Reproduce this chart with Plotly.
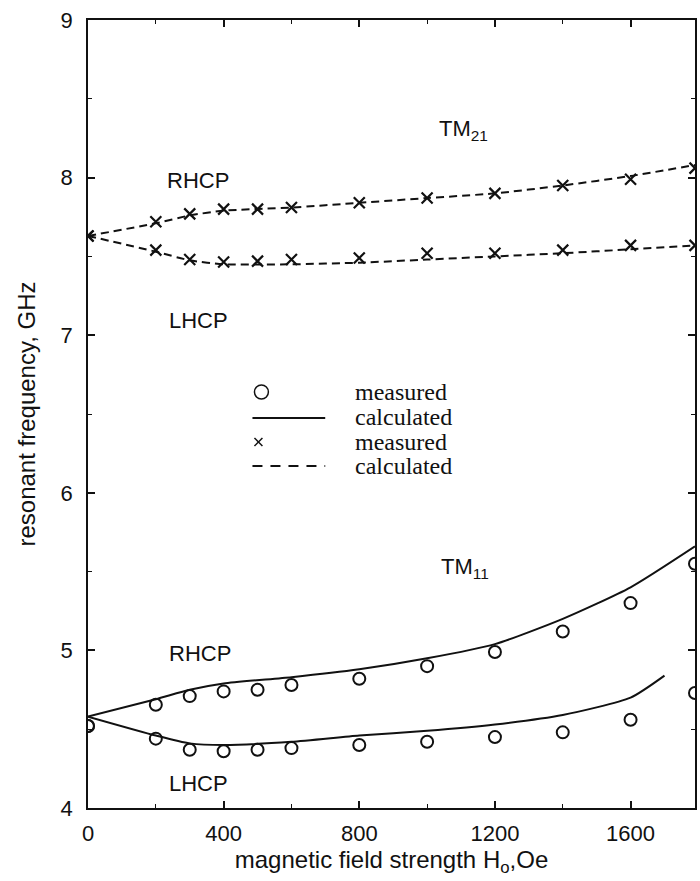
import plotly.graph_objects as go

# ---------------- data ----------------
x_meas = [0, 200, 300, 400, 500, 600, 800, 1000, 1200, 1400, 1600, 1790]

tm21_rhcp_meas = [7.63, 7.72, 7.77, 7.80, 7.80, 7.81, 7.84, 7.87, 7.90, 7.95, 7.99, 8.06]
tm21_lhcp_meas = [7.63, 7.54, 7.48, 7.465, 7.47, 7.48, 7.49, 7.52, 7.52, 7.54, 7.57, 7.57]

x_calc21 = [0, 200, 300, 400, 600, 800, 1000, 1200, 1400, 1600, 1790]
tm21_rhcp_calc = [7.63, 7.71, 7.76, 7.79, 7.81, 7.84, 7.87, 7.90, 7.95, 8.01, 8.08]
tm21_lhcp_calc = [7.63, 7.53, 7.475, 7.45, 7.45, 7.46, 7.48, 7.50, 7.52, 7.545, 7.57]

tm11_rhcp_meas = [4.52, 4.655, 4.71, 4.74, 4.75, 4.78, 4.82, 4.90, 4.99, 5.12, 5.30, 5.55]
tm11_lhcp_meas = [4.52, 4.44, 4.37, 4.36, 4.37, 4.38, 4.40, 4.42, 4.45, 4.48, 4.56, 4.73]

x_calc11_r = [0, 200, 300, 400, 600, 800, 1000, 1200, 1400, 1600, 1790]
tm11_rhcp_calc = [4.58, 4.69, 4.75, 4.79, 4.83, 4.88, 4.95, 5.04, 5.20, 5.40, 5.66]
x_calc11_l = [0, 200, 300, 400, 600, 800, 1000, 1200, 1400, 1600, 1700]
tm11_lhcp_calc = [4.58, 4.46, 4.41, 4.40, 4.42, 4.46, 4.49, 4.53, 4.59, 4.70, 4.84]

x_ticks = [0, 400, 800, 1200, 1600]
y_ticks = [4, 5, 6, 7, 8, 9]

# ---------------- figure ----------------
SANS = "Liberation Sans, Arial, Helvetica, sans-serif"
SERIF = "Liberation Serif, Times New Roman, serif"
BLACK = "#111111"

fig = go.Figure()

dash_style = dict(color=BLACK, width=2, dash="8px,5px", shape="spline", smoothing=0.6)
solid_style = dict(color=BLACK, width=2, shape="spline", smoothing=0.6)

fig.add_trace(go.Scatter(x=x_calc21, y=tm21_rhcp_calc, mode="lines", line=dash_style, showlegend=False))
fig.add_trace(go.Scatter(x=x_calc21, y=tm21_lhcp_calc, mode="lines", line=dash_style, showlegend=False))
fig.add_trace(go.Scatter(x=x_calc11_r, y=tm11_rhcp_calc, mode="lines", line=solid_style, showlegend=False))
fig.add_trace(go.Scatter(x=x_calc11_l, y=tm11_lhcp_calc, mode="lines", line=solid_style, showlegend=False))

xmark = dict(symbol="x-thin-open", size=11, color=BLACK, line=dict(width=2.2, color=BLACK))
omark = dict(symbol="circle-open", size=12, color=BLACK, line=dict(width=2, color=BLACK))

fig.add_trace(go.Scatter(x=x_meas, y=tm21_rhcp_meas, mode="markers", marker=xmark, showlegend=False))
fig.add_trace(go.Scatter(x=x_meas, y=tm21_lhcp_meas, mode="markers", marker=xmark, showlegend=False))
fig.add_trace(go.Scatter(x=x_meas, y=tm11_rhcp_meas, mode="markers", marker=omark, showlegend=False))
fig.add_trace(go.Scatter(x=x_meas, y=tm11_lhcp_meas, mode="markers", marker=omark, showlegend=False))

# ---------------- layout ----------------
ML, MR, MT, MB = 88, 3, 20, 73
W, H = 700, 881
PW, PH = W - ML - MR, H - MT - MB


def px(x):
    return (x - ML) / PW


def py(y):
    return (H - MB - y) / PH


axis_common = dict(
    showline=True, linecolor=BLACK, linewidth=1.5, mirror="ticks",
    ticks="inside", ticklen=7, tickwidth=1.5, tickcolor=BLACK,
    showgrid=False, zeroline=False,
    tickfont=dict(family=SANS, size=22, color=BLACK),
)

fig.update_layout(
    width=W, height=H,
    margin=dict(l=ML, r=MR, t=MT, b=MB),
    paper_bgcolor="white", plot_bgcolor="white",
    showlegend=False,
    xaxis=dict(
        range=[0, 1790], tickvals=x_ticks, ticktext=[str(v) for v in x_ticks],
        minor=dict(dtick=200, tick0=0, ticks="inside", ticklen=4, tickwidth=1.2, tickcolor=BLACK),
        ticklabelstandoff=5,
        title=dict(text="magnetic field strength H<sub>o</sub>,Oe",
                   font=dict(family=SANS, size=24, color=BLACK), standoff=2),
        **axis_common,
    ),
    yaxis=dict(
        range=[4, 9], tickvals=y_ticks, ticktext=[str(v) for v in y_ticks],
        minor=dict(dtick=0.5, tick0=4, ticks="inside", ticklen=4, tickwidth=1.2, tickcolor=BLACK),
        ticklabelstandoff=9,
        title=dict(text="resonant frequency, GHz",
                   font=dict(family=SANS, size=24, color=BLACK), standoff=18),
        **axis_common,
    ),
)

# ---- mode / polarisation labels ----
labels = [
    ("TM<sub>21</sub>", 438, 130),
    ("RHCP", 165, 181),
    ("LHCP", 167, 321),
    ("TM<sub>11</sub>", 440, 568),
    ("RHCP", 167, 653),
    ("LHCP", 167, 783),
]
for text, lx, ly in labels:
    fig.add_annotation(xref="paper", yref="paper", x=px(lx), y=py(ly), text=text,
                       showarrow=False, xanchor="left", yanchor="middle",
                       font=dict(family=SANS, size=22, color=BLACK))

# ---- hand-drawn legend ----
fig.add_shape(type="circle", xref="paper", yref="paper",
              x0=px(255), x1=px(269), y0=py(399), y1=py(385),
              line=dict(color=BLACK, width=1.5))
fig.add_shape(type="line", xref="paper", yref="paper",
              x0=px(253), x1=px(326), y0=py(418), y1=py(418),
              line=dict(color=BLACK, width=2))
fig.add_shape(type="line", xref="paper", yref="paper",
              x0=px(255), x1=px(263), y0=py(438), y1=py(446),
              line=dict(color=BLACK, width=1.5))
fig.add_shape(type="line", xref="paper", yref="paper",
              x0=px(255), x1=px(263), y0=py(446), y1=py(438),
              line=dict(color=BLACK, width=1.5))
fig.add_shape(type="line", xref="paper", yref="paper",
              x0=px(253), x1=px(326), y0=py(466), y1=py(466),
              line=dict(color=BLACK, width=2, dash="10px,8px"))

legend_text = [("measured", 392), ("calculated", 417), ("measured", 442), ("calculated", 466)]
for text, ly in legend_text:
    fig.add_annotation(xref="paper", yref="paper", x=px(354), y=py(ly), text=text,
                       showarrow=False, xanchor="left", yanchor="middle",
                       font=dict(family=SERIF, size=24, color=BLACK))

fig.write_html("out.html")
